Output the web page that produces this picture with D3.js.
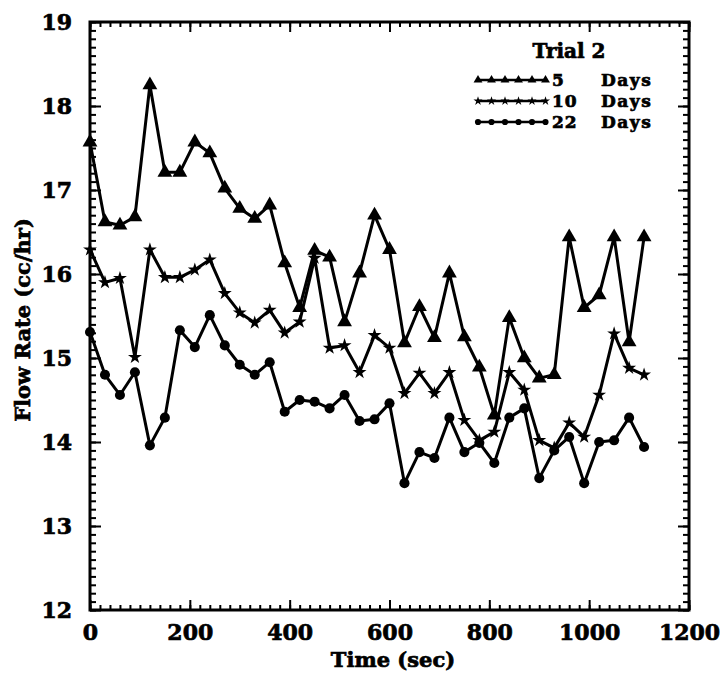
<!DOCTYPE html>
<html>
<head>
<meta charset="utf-8">
<script src="https://cdn.jsdelivr.net/npm/d3@7"></script>
<style>
  html, body { margin: 0; padding: 0; background: #fff; }
  svg { display: block; }
  text { font-family: "DejaVu Serif", "Liberation Serif", serif; font-weight: bold; fill: #000;
         stroke: #000; stroke-width: 0.7px; }
</style>
</head>
<body>
<svg id="chart" width="726" height="675"></svg>
<script>
// Sampling times (sec)
const times = [0, 30, 60, 90, 120, 150, 180, 210, 240, 270, 300, 330, 360, 390, 420, 450, 480, 510, 540,
  570, 600, 630, 660, 690, 720, 750, 780, 810, 840, 870, 900, 930, 960, 990, 1020, 1050, 1080, 1110];

// Flow rate (cc/hr) per ageing period
const fiveDays = [17.57, 16.62, 16.58, 16.68, 18.25, 17.21, 17.21, 17.57, 17.44, 17.02, 16.78, 16.66, 16.82,
  16.13, 15.6, 16.28, 16.2, 15.43, 16.01, 16.70, 16.29, 15.18, 15.61, 15.24, 16.01, 15.25, 14.89, 14.32,
  15.48, 15.0, 14.76, 14.80, 16.44, 15.6, 15.75, 16.44, 15.19, 16.44];
const tenDays = [16.29, 15.9, 15.95, 15.01, 16.29, 15.96, 15.96, 16.05, 16.17, 15.77, 15.54, 15.42, 15.57,
  15.30, 15.43, 16.19, 15.12, 15.15, 14.83, 15.27, 15.12, 14.58, 14.82, 14.58, 14.83, 14.26, 14.02, 14.12,
  14.83, 14.62, 14.02, 13.93, 14.23, 14.06, 14.56, 15.29, 14.88, 14.80];
const twentyTwoDays = [15.31, 14.80, 14.56, 14.83, 13.96, 14.29, 15.33, 15.13, 15.51, 15.15, 14.92, 14.80, 14.95,
  14.36, 14.5, 14.48, 14.40, 14.56, 14.25, 14.27, 14.46, 13.51, 13.88, 13.81, 14.29, 13.88, 13.99, 13.75,
  14.29, 14.40, 13.57, 13.9, 14.06, 13.51, 14.0, 14.02, 14.29, 13.94];

const seriesNames = ["5", "10", "22"];
const xTicks = [0, 200, 400, 600, 800, 1000, 1200];
const yTicks = [12, 13, 14, 15, 16, 17, 18, 19];
const legendTitle = "Trial 2";
const xTitle = "Time (sec)";
const yTitle = "Flow Rate (cc/hr)";

const series = [
  { name: seriesNames[0], values: fiveDays, symbol: d3.symbolTriangle, size: 95, legendSize: 34 },
  { name: seriesNames[1], values: tenDays, symbol: d3.symbolStar, size: 60, legendSize: 26 },
  { name: seriesNames[2], values: twentyTwoDays, symbol: d3.symbolCircle, size: 80, legendSize: 30 }
];

const svg = d3.select("#chart");
const L = 90, R = 689, T = 22, B = 610;
const x = d3.scaleLinear().domain([0, 1200]).range([L, R]);
const y = d3.scaleLinear().domain([12, 19]).range([B, T]);

// Axes: minor ticks pointing inward on all four sides, longer major ticks
const minorX = d3.range(0, 1201, 20);
const minorY = d3.range(120, 191, 1).map(v => v / 10);

function styleAxis(g) {
  g.select(".domain").remove();
  g.selectAll(".tick line").attr("stroke", "#000").attr("stroke-width", 2);
}

svg.append("g").attr("transform", `translate(0,${B})`)
  .call(d3.axisBottom(x).tickValues(minorX).tickSize(-5).tickFormat(""))
  .call(styleAxis);
svg.append("g").attr("transform", `translate(0,${B})`)
  .call(d3.axisBottom(x).tickValues(xTicks).tickSize(-10).tickPadding(14).tickFormat(d3.format("d")))
  .call(styleAxis)
  .selectAll("text").attr("font-size", 22).attr("font-family", "DejaVu Serif").attr("font-weight", "bold");

svg.append("g").attr("transform", `translate(0,${T})`)
  .call(d3.axisTop(x).tickValues(minorX).tickSize(-5).tickFormat(""))
  .call(styleAxis);
svg.append("g").attr("transform", `translate(0,${T})`)
  .call(d3.axisTop(x).tickValues(xTicks).tickSize(-10).tickFormat(""))
  .call(styleAxis);

svg.append("g").attr("transform", `translate(${L},0)`)
  .call(d3.axisLeft(y).tickValues(minorY).tickSize(-6).tickFormat(""))
  .call(styleAxis);
svg.append("g").attr("transform", `translate(${L},0)`)
  .call(d3.axisLeft(y).tickValues(yTicks).tickSize(-11).tickPadding(18).tickFormat(d3.format("d")))
  .call(styleAxis)
  .selectAll("text").attr("font-size", 22).attr("font-family", "DejaVu Serif").attr("font-weight", "bold");

svg.append("g").attr("transform", `translate(${R},0)`)
  .call(d3.axisRight(y).tickValues(minorY).tickSize(-6).tickFormat(""))
  .call(styleAxis);
svg.append("g").attr("transform", `translate(${R},0)`)
  .call(d3.axisRight(y).tickValues(yTicks).tickSize(-11).tickFormat(""))
  .call(styleAxis);

// Frame
svg.append("rect")
  .attr("x", L).attr("y", T).attr("width", R - L).attr("height", B - T)
  .attr("fill", "none").attr("stroke", "#000").attr("stroke-width", 3);

// Axis titles
svg.append("text")
  .attr("x", 393).attr("y", 667)
  .attr("text-anchor", "middle").attr("font-size", 21)
  .text(xTitle);
svg.append("text")
  .attr("transform", `translate(30,320) rotate(-90)`)
  .attr("text-anchor", "middle").attr("font-size", 21)
  .text(yTitle);

// Series lines and markers
const line = d3.line().x((d, i) => x(times[i])).y(d => y(d));
series.forEach(s => {
  svg.append("path")
    .datum(s.values)
    .attr("d", line)
    .attr("fill", "none").attr("stroke", "#000").attr("stroke-width", 3)
    .attr("stroke-linejoin", "round");
  svg.append("g").selectAll("path")
    .data(s.values)
    .join("path")
    .attr("transform", (d, i) => `translate(${x(times[i])},${y(d)})`)
    .attr("d", d3.symbol().type(s.symbol).size(s.size))
    .attr("fill", "#000");
});

// Legend
const lg = svg.append("g");
lg.append("text").attr("x", 569).attr("y", 58).attr("text-anchor", "middle")
  .attr("font-size", 20).text(legendTitle);
series.forEach((s, k) => {
  const cy = 80 + k * 21;
  const xs = d3.range(6).map(j => 478 + j * 13.5);
  lg.append("line").attr("x1", xs[0]).attr("x2", xs[5]).attr("y1", cy).attr("y2", cy)
    .attr("stroke", "#000").attr("stroke-width", 2.5);
  lg.selectAll(null).data(xs).join("path")
    .attr("transform", d => `translate(${d},${cy})`)
    .attr("d", d3.symbol().type(s.symbol).size(s.legendSize))
    .attr("fill", "#000");
  lg.append("text").attr("x", 552).attr("y", cy + 6).attr("font-size", 17)
    .attr("letter-spacing", 1).text(s.name);
  lg.append("text").attr("x", 601).attr("y", cy + 6).attr("font-size", 17)
    .attr("letter-spacing", 1.5).text("Days");
});
</script>
</body>
</html>
